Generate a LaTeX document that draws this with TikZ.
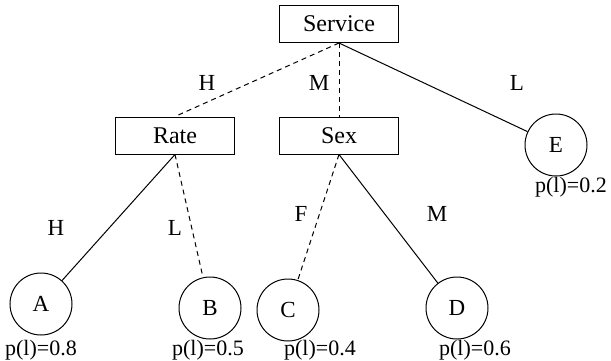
\documentclass[tikz,border=0pt]{standalone}
\usepackage{fontspec}
\setmainfont{Liberation Serif}
\begin{document}
\begin{tikzpicture}[
    x=1pt,
    y=-1pt,
    font=\fontsize{23}{26}\selectfont,
    attr/.style={draw, line width=1pt, minimum width=119pt, minimum height=37pt, inner sep=0pt,
        font=\fontsize{24}{26}\selectfont},
    leaf/.style={draw, circle, line width=1pt, minimum size=62pt, inner sep=0pt},
    prob/.style={inner sep=0pt, font=\fontsize{22}{26}\selectfont},
    edge/.style={line width=1pt},
    cut/.style={line width=1pt, dash pattern=on 5pt off 4pt}
]
    \useasboundingbox (0,0) rectangle (611,360);

    % Tests
    \node[attr] (service) at (339,24) {Service};
    \node[attr] (rate) at (175,135.5) {Rate};
    \node[attr] (sex) at (339,135.5) {Sex};

    % Leaves
    \node[leaf] (a) at (41,304) {A};
    \node[leaf] (b) at (210,308) {B};
    \node[leaf] (c) at (288,310) {C};
    \node[leaf] (d) at (457,308) {D};
    \node[leaf] (e) at (556,145) {E};

    % Leaf probabilities
    \node[prob] (pa) at (41,350) {p(l)=0.8};
    \node[prob] (pb) at (208,350) {p(l)=0.5};
    \node[prob] (pc) at (320,350) {p(l)=0.4};
    \node[prob] (pd) at (475,350) {p(l)=0.6};
    \node[prob] (pe) at (571,187) {p(l)=0.2};

    % Branches
    \draw[cut] (service.south) -- (rate.north);
    \draw[cut] (service.south) -- (sex.north);
    \draw[edge] (service.south) -- (e);
    \draw[edge] (rate.south) -- (a);
    \draw[cut] (rate.south) -- (b);
    \draw[cut] (sex.south) -- (c);
    \draw[edge] (sex.south) -- (d);

    % Branch labels
    \node (lh1) at (207,83) {H};
    \node (lm1) at (319,83) {M};
    \node (ll1) at (517,83) {L};
    \node (lh2) at (56,228) {H};
    \node (ll2) at (175,228) {L};
    \node (lf) at (301,214) {F};
    \node (lm2) at (437,214) {M};

\end{tikzpicture}
\end{document}
